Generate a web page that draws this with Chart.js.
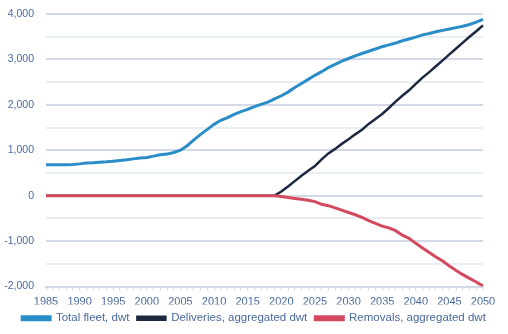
<!DOCTYPE html>
<html lang="en">
<head>
    <meta charset="UTF-8">
    <title>Fleet, deliveries and removals</title>
    <style>
        body { margin: 0; background: #ffffff; }
        #wrap { width: 508px; height: 334px; }
    </style>
    <script src="https://cdn.jsdelivr.net/npm/chart.js"></script>
</head>
<body>
    <div id="wrap"><canvas id="fleetChart" width="508" height="334"></canvas></div>

    <script>
        // years 1985..2050
        const years = [];
        for (let y = 1985; y <= 2050; y++) years.push(String(y));

        const totalFleet = [
            680, 680, 680, 680, 685, 700, 720, 725, 735, 745,        // 1985-1994
            760, 775, 790, 810, 830, 840, 870, 900, 915, 950,        // 1995-2004
            1000, 1100, 1230, 1350, 1460, 1570, 1660, 1720, 1790, 1850, // 2005-2014
            1900, 1960, 2010, 2060, 2130, 2200, 2280, 2380, 2470, 2560, // 2015-2024
            2650, 2730, 2820, 2890, 2960, 3020, 3080, 3130, 3180, 3230, // 2025-2034
            3280, 3320, 3360, 3410, 3450, 3490, 3540, 3570, 3610, 3640, // 2035-2044
            3670, 3700, 3730, 3770, 3820, 3880                       // 2045-2050
        ];

        const deliveries = [
            0, 0, 0, 0, 0, 0, 0, 0, 0, 0,
            0, 0, 0, 0, 0, 0, 0, 0, 0, 0,
            0, 0, 0, 0, 0, 0, 0, 0, 0, 0,
            0, 0, 0, 0, 0, 90, 200, 320, 440, 550,
            650, 800, 930, 1030, 1140, 1240, 1350, 1450, 1580, 1690,
            1800, 1930, 2070, 2200, 2320, 2460, 2600, 2720, 2850, 2980,
            3110, 3240, 3370, 3500, 3620, 3750
        ];

        const removals = [
            0, 0, 0, 0, 0, 0, 0, 0, 0, 0,
            0, 0, 0, 0, 0, 0, 0, 0, 0, 0,
            0, 0, 0, 0, 0, 0, 0, 0, 0, 0,
            0, 0, 0, 0, 0, -20, -40, -60, -80, -100,
            -130, -190, -220, -270, -320, -370, -420, -480, -550, -610,
            -670, -710, -770, -870, -940, -1050, -1150, -1250, -1350, -1440,
            -1550, -1650, -1740, -1820, -1900, -1990
        ];

        const textColor = '#4a6a9c';
        const fontFamily = '"Liberation Sans", Arial, sans-serif';

        const ctx = document.getElementById('fleetChart').getContext('2d');
        const fleetChart = new Chart(ctx, {
            type: 'line',
            data: {
                labels: years,
                datasets: [
                    {
                        label: 'Total fleet, dwt',
                        data: totalFleet,
                        borderColor: '#2a8dc8',
                        backgroundColor: '#2a8dc8',
                        borderWidth: 3,
                        pointRadius: 0,
                        order: 1
                    },
                    {
                        label: 'Deliveries, aggregated dwt',
                        data: deliveries,
                        borderColor: '#1d2940',
                        backgroundColor: '#1d2940',
                        borderWidth: 2.5,
                        pointRadius: 0,
                        order: 2
                    },
                    {
                        label: 'Removals, aggregated dwt',
                        data: removals,
                        borderColor: '#d34a5f',
                        backgroundColor: '#d34a5f',
                        borderWidth: 3,
                        pointRadius: 0,
                        order: 0
                    }
                ]
            },
            options: {
                responsive: false,
                animation: false,
                layout: { padding: { left: 0, right: 0, top: 0, bottom: 0 } },
                plugins: {
                    tooltip: { enabled: false },
                    legend: {
                        position: 'bottom',
                        labels: {
                            color: textColor,
                            font: { family: fontFamily, size: 11.5 },
                            boxWidth: 28,
                            boxHeight: 3,
                            padding: 8,
                            sort: (a, b) => a.datasetIndex - b.datasetIndex
                        }
                    }
                },
                scales: {
                    x: {
                        offset: false,
                        afterFit: (scale) => { scale.height = 18; },
                        grid: {
                            drawOnChartArea: false,
                            drawTicks: true,
                            tickLength: 4,
                            color: '#d3dae6',
                            lineWidth: 1
                        },
                        border: { display: true, color: '#d3dae6', width: 2 },
                        ticks: {
                            autoSkip: false,
                            maxRotation: 0,
                            color: textColor,
                            font: { family: fontFamily, size: 11 },
                            padding: 5,
                            callback: function (value, index) {
                                const yr = Number(this.getLabelForValue(value));
                                return yr % 5 === 0 ? String(yr) : '';
                            }
                        }
                    },
                    y: {
                        min: -2000,
                        max: 4000,
                        afterFit: (scale) => {
                            scale.width = 46;
                            scale.paddingTop = 14;
                        },
                        grid: {
                            drawTicks: false,
                            lineWidth: 2,
                            color: (c) => (c.tick && c.tick.value % 1000 === 0) ? '#d3dae6' : '#e9edf4'
                        },
                        border: { display: false },
                        ticks: {
                            stepSize: 500,
                            color: textColor,
                            font: { family: fontFamily, size: 10.5 },
                            padding: 12,
                            callback: (v) => v % 1000 === 0 ? v.toLocaleString('en-US') : ''
                        }
                    },
                    // empty right-hand strip so the legend stays centred on the page
                    yRight: {
                        position: 'right',
                        min: -2000,
                        max: 4000,
                        afterFit: (scale) => { scale.width = 25; },
                        grid: { display: false },
                        border: { display: false },
                        ticks: { display: false }
                    }
                }
            }
        });
    </script>
</body>
</html>
